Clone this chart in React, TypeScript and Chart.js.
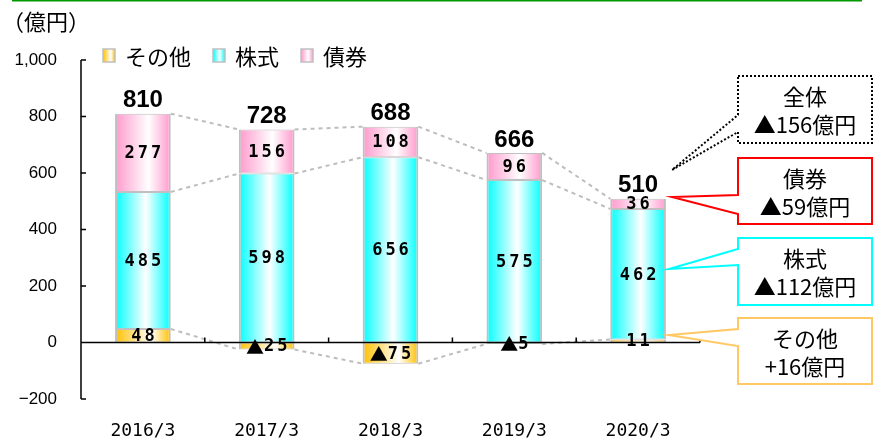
import React, { useEffect, useRef } from 'react';
import { Chart, registerables } from 'chart.js';

Chart.register(...registerables);

// ---------- data ----------
const categories = ['2016/3', '2017/3', '2018/3', '2019/3', '2020/3'];
const otherValues = [48, -25, -75, -5, 11];
const stockValues = [485, 598, 656, 575, 462];
const bondValues = [277, 156, 108, 96, 36];
const totalLabels = ['810', '728', '688', '666', '510'];
const seriesNames = ['その他', '株式', '債券'];
const yTickMin = -200;
const yTickMax = 1000;
const yTickStep = 200;
const unitText = '（億円）';
const calloutTitles = ['全体', '債券', '株式', 'その他'];
const calloutValues = ['▲156億円', '▲59億円', '▲112億円', '+16億円'];
const negMark = '▲';

// ---------- styles / layout ----------
const W = 873;
const H = 441;
const BAR_PCT = 0.45;
const SERIES_COLORS = ['#ffc000', '#00ffff', '#ff99cc'];
const WHITE_STOPS = [0.65, 0.55, 0.6];
const BORDER_GRAY = '#c0c0c0';
const JP = '"Noto Sans CJK JP", "Noto Sans", sans-serif';
const MONO_BOLD = 'bold 17px "DejaVu Sans Mono", monospace';
const TRI_FONT = 'bold 18px "Noto Sans CJK JP", sans-serif';
const BOX_LEFT = 738;
const BOX_RIGHT = 872;
const CALLOUT_LAYOUT = [
  { top: 76, bottom: 143, a: 115, b: 132, tipX: 672, tipY: 170, color: '#000000', dash: [2, 2] },
  { top: 158, bottom: 224, a: 195, b: 214, tipX: 672, tipY: 197, color: '#ff0000', dash: [] as number[] },
  { top: 238, bottom: 305, a: 249, b: 265, tipX: 669, tipY: 269, color: '#00ffff', dash: [] as number[] },
  { top: 318, bottom: 384, a: 329, b: 346, tipX: 669, tipY: 335, color: '#ffc864', dash: [] as number[] },
];

function makeGradient(color: string, whiteStop: number) {
  return (c: any) => {
    const chart = c.chart;
    const xs = chart.scales && chart.scales.x;
    const area = chart.chartArea;
    if (!xs || !area || c.type !== 'data') return color;
    const cx = xs.getPixelForValue(c.dataIndex);
    const w = ((area.right - area.left) / categories.length) * BAR_PCT;
    const g = chart.ctx.createLinearGradient(cx - w / 2, 0, cx + w / 2, 0);
    g.addColorStop(0, color);
    g.addColorStop(whiteStop, '#ffffff');
    g.addColorStop(1, color);
    return g;
  };
}

function drawSegLabel(ctx: CanvasRenderingContext2D, v: number, x: number, y: number) {
  const digits = String(Math.abs(v));
  ctx.font = MONO_BOLD;
  (ctx as any).letterSpacing = '3px';
  const dw = ctx.measureText(digits).width - 3;
  let tw = 0;
  if (v < 0) {
    (ctx as any).letterSpacing = '0px';
    ctx.font = TRI_FONT;
    tw = ctx.measureText(negMark).width;
  }
  const total = dw + tw;
  let sx = x - total / 2;
  ctx.textAlign = 'left';
  ctx.textBaseline = 'middle';
  if (v < 0) {
    ctx.font = TRI_FONT;
    (ctx as any).letterSpacing = '0px';
    ctx.fillText(negMark, sx, y);
    sx += tw;
  }
  ctx.font = MONO_BOLD;
  (ctx as any).letterSpacing = '3px';
  ctx.fillText(digits, sx, y);
  (ctx as any).letterSpacing = '0px';
}

const overlayPlugin = {
  id: 'overlay',
  afterDatasetsDraw(chart: any) {
    const ctx: CanvasRenderingContext2D = chart.ctx;
    const ca = chart.chartArea;
    const ys = chart.scales.y;
    const nCat = categories.length;
    const catW = (ca.right - ca.left) / nCat;

    // series lines
    ctx.save();
    ctx.strokeStyle = '#bdbdbd';
    ctx.lineWidth = 2;
    ctx.setLineDash([4, 4]);
    for (let d = 0; d < 3; d++) {
      const meta = chart.getDatasetMeta(d);
      for (let i = 0; i < meta.data.length - 1; i++) {
        const a = meta.data[i];
        const b = meta.data[i + 1];
        ctx.beginPath();
        ctx.moveTo(a.x + a.width / 2, a.y);
        ctx.lineTo(b.x - b.width / 2, b.y);
        ctx.stroke();
      }
    }
    ctx.restore();

    // axes
    ctx.save();
    ctx.strokeStyle = '#000';
    ctx.lineWidth = 1.5;
    const yTop = ys.getPixelForValue(yTickMax);
    const yBot = ys.getPixelForValue(yTickMin);
    ctx.beginPath();
    ctx.moveTo(ca.left, yTop);
    ctx.lineTo(ca.left, yBot);
    for (let v = yTickMin; v <= yTickMax; v += yTickStep) {
      const py = ys.getPixelForValue(v);
      ctx.moveTo(ca.left, py);
      ctx.lineTo(ca.left + 5, py);
    }
    const y0 = ys.getPixelForValue(0);
    ctx.moveTo(ca.left, y0);
    ctx.lineTo(ca.right, y0);
    for (let k = 1; k <= nCat; k++) {
      const px = ca.left + k * catW;
      ctx.moveTo(px, y0);
      ctx.lineTo(px, y0 - 5);
    }
    ctx.stroke();
    ctx.restore();

    // segment labels
    ctx.save();
    ctx.fillStyle = '#000';
    const sets = [otherValues, stockValues, bondValues];
    for (let d = 0; d < 3; d++) {
      const meta = chart.getDatasetMeta(d);
      meta.data.forEach((el: any, i: number) => {
        const cy = (el.y + el.base) / 2;
        drawSegLabel(ctx, sets[d][i], el.x, cy + 1);
      });
    }

    // totals
    ctx.font = 'bold 24px "Liberation Sans", Arial, sans-serif';
    ctx.textAlign = 'center';
    ctx.textBaseline = 'bottom';
    const topMeta = chart.getDatasetMeta(2);
    topMeta.data.forEach((el: any, i: number) => {
      ctx.fillText(totalLabels[i], el.x, el.y - 1);
    });
    ctx.restore();
  },
  afterDraw(chart: any) {
    const ctx: CanvasRenderingContext2D = chart.ctx;
    ctx.save();

    // green top rule
    ctx.strokeStyle = '#009900';
    ctx.lineWidth = 1.5;
    ctx.beginPath();
    ctx.moveTo(12, 0.75);
    ctx.lineTo(862, 0.75);
    ctx.stroke();

    // unit label
    ctx.fillStyle = '#000';
    ctx.font = '22px ' + JP;
    ctx.textAlign = 'left';
    ctx.textBaseline = 'middle';
    ctx.fillText(unitText, 2, 22);

    // legend
    ctx.font = '22px ' + JP;
    let lx = 103;
    seriesNames.forEach((name, i) => {
      const g = ctx.createLinearGradient(lx, 0, lx + 12, 0);
      g.addColorStop(0, SERIES_COLORS[i]);
      g.addColorStop(WHITE_STOPS[i], '#ffffff');
      g.addColorStop(1, SERIES_COLORS[i]);
      ctx.fillStyle = g;
      ctx.fillRect(lx, 49, 12, 13);
      ctx.strokeStyle = BORDER_GRAY;
      ctx.lineWidth = 1.5;
      ctx.strokeRect(lx, 49, 12, 13);
      ctx.fillStyle = '#000';
      ctx.fillText(name, lx + 22, 57);
      lx += 22 + ctx.measureText(name).width + 22;
    });

    // callouts
    CALLOUT_LAYOUT.forEach((c, i) => {
      ctx.beginPath();
      ctx.moveTo(BOX_LEFT, c.top);
      ctx.lineTo(BOX_RIGHT, c.top);
      ctx.lineTo(BOX_RIGHT, c.bottom);
      ctx.lineTo(BOX_LEFT, c.bottom);
      ctx.lineTo(BOX_LEFT, c.b);
      ctx.lineTo(c.tipX, c.tipY);
      ctx.lineTo(BOX_LEFT, c.a);
      ctx.closePath();
      ctx.fillStyle = '#fff';
      ctx.fill();
      ctx.setLineDash(c.dash);
      ctx.strokeStyle = c.color;
      ctx.lineWidth = 2;
      ctx.stroke();
      ctx.setLineDash([]);
      ctx.fillStyle = '#000';
      ctx.font = '22px ' + JP;
      ctx.textAlign = 'center';
      ctx.textBaseline = 'middle';
      const cx = (BOX_LEFT + BOX_RIGHT) / 2;
      ctx.fillText(calloutTitles[i], cx, c.top + 21);
      ctx.fillText(calloutValues[i], cx, c.top + 49);
    });

    ctx.restore();
  },
};

export default function App() {
  const ref = useRef<HTMLCanvasElement>(null);
  useEffect(() => {
    document.body.style.margin = '0';
    const seriesData = [otherValues, stockValues, bondValues];
    const chart = new Chart(ref.current as HTMLCanvasElement, {
      type: 'bar',
      data: {
        labels: categories,
        datasets: seriesNames.map((name, i) => ({
          label: name,
          data: seriesData[i],
          backgroundColor: makeGradient(SERIES_COLORS[i], WHITE_STOPS[i]) as any,
          borderColor: BORDER_GRAY,
          borderWidth: { top: 1, bottom: 1, left: 2, right: 2 },
          borderSkipped: false,
          barPercentage: BAR_PCT,
          categoryPercentage: 1,
        })),
      },
      options: {
        responsive: false,
        animation: false,
        devicePixelRatio: 1,
        layout: { padding: { left: 0, top: 60, right: W - 700, bottom: 0 } },
        plugins: {
          legend: { display: false },
          tooltip: { enabled: false },
        },
        scales: {
          x: {
            stacked: true,
            grid: { display: false, drawTicks: false },
            border: { display: false },
            ticks: {
              color: '#000',
              padding: 22,
              font: { family: '"DejaVu Sans Mono", monospace', size: 18 },
              maxRotation: 0,
            },
            afterFit: (s: any) => {
              s.height = 42;
            },
          },
          y: {
            stacked: true,
            min: yTickMin,
            max: yTickMax,
            grid: { display: false, drawTicks: false },
            border: { display: false },
            ticks: {
              stepSize: yTickStep,
              color: '#000',
              padding: 24,
              font: { family: '"Liberation Sans", Arial, sans-serif', size: 17 },
              callback: (v: any) => {
                const n = Number(v);
                return n < 0 ? '−' + Math.abs(n).toLocaleString('en-US') : n.toLocaleString('en-US');
              },
            },
            afterFit: (s: any) => {
              s.width = 81;
            },
          },
        },
      },
      plugins: [overlayPlugin],
    });
    return () => chart.destroy();
  }, []);
  return (
    <div style={{ width: W, height: H }}>
      <canvas ref={ref} width={W} height={H} style={{ display: 'block' }} />
    </div>
  );
}
